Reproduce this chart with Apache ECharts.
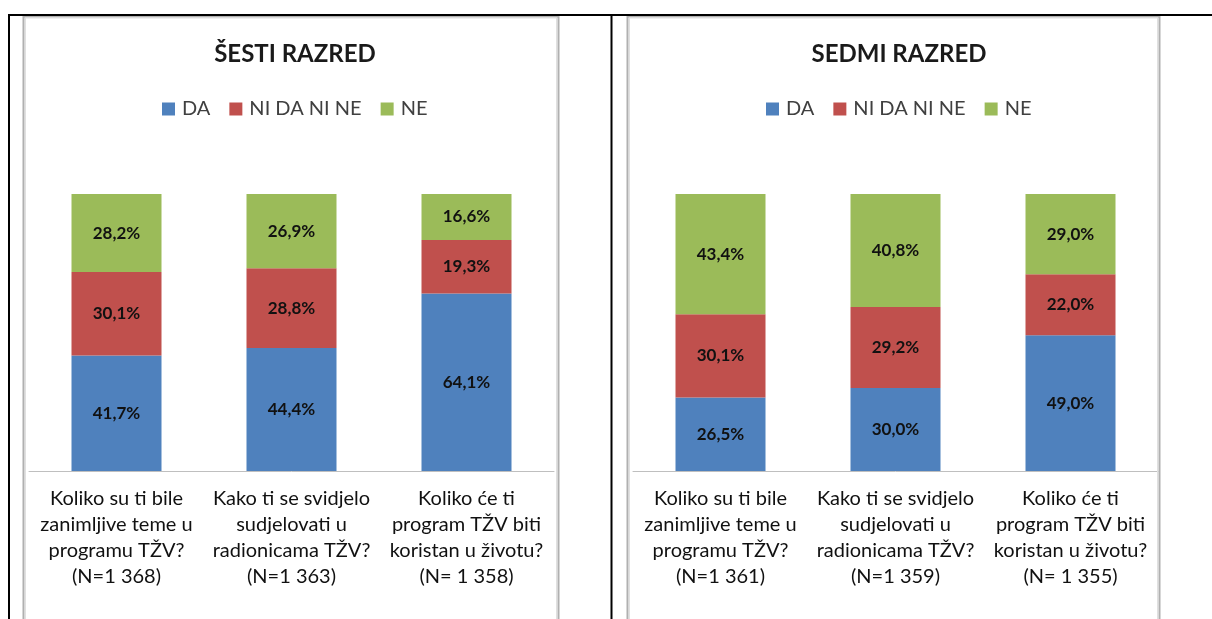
<!DOCTYPE html>
<html>
<head>
<meta charset="utf-8">
<script src="https://cdn.jsdelivr.net/npm/echarts@6/dist/echarts.min.js"></script>
<style>
html,body{margin:0;padding:0;background:#fff;}
#c{width:1212px;height:619px;}
</style>
</head>
<body>
<div id="c"></div>
<script>
// ---- data ----
const titles = ['ŠESTI RAZRED', 'SEDMI RAZRED'];
const seriesNames = ['DA', 'NI DA NI NE', 'NE'];
const categories6 = [
  'Koliko su ti bile\nzanimljive teme u\nprogramu TŽV?\n(N=1 368)',
  'Kako ti se svidjelo\nsudjelovati u\nradionicama TŽV?\n(N=1 363)',
  'Koliko će ti\nprogram TŽV biti\nkoristan u životu?\n(N= 1 358)'
];
const categories7 = [
  'Koliko su ti bile\nzanimljive teme u\nprogramu TŽV?\n(N=1 361)',
  'Kako ti se svidjelo\nsudjelovati u\nradionicama TŽV?\n(N=1 359)',
  'Koliko će ti\nprogram TŽV biti\nkoristan u životu?\n(N= 1 355)'
];
const da6   = [41.7, 44.4, 64.1];
const nidani6 = [30.1, 28.8, 19.3];
const ne6   = [28.2, 26.9, 16.6];
const da7   = [26.5, 30.0, 49.0];
const nidani7 = [30.1, 29.2, 22.0];
const ne7   = [43.4, 40.8, 29.0];

const colors = ['#4F81BD', '#C0504D', '#9BBB59'];
const FONT = 'Lato, "Open Sans", sans-serif';

const chart = echarts.init(document.getElementById('c'), null, {renderer: 'canvas'});

const panels = [
  {cats: categories6, vals: [da6, nidani6, ne6], left: 29, center: 291, legendLeft: 162},
  {cats: categories7, vals: [da7, nidani7, ne7], left: 633, center: 895, legendLeft: 766}
];

const option = {
  animation: false,
  backgroundColor: '#fff',
  color: colors,
  title: panels.map((p, i) => ({
    text: titles[i],
    left: p.center - 1, top: 37, textAlign: 'center',
    textStyle: {fontFamily: FONT, fontWeight: 'bold', fontSize: 24, color: '#1a1a1a'}
  })),
  legend: panels.map((p, i) => ({
    data: seriesNames,
    left: p.legendLeft, top: 99,
    padding: 0,
    itemWidth: 13, itemHeight: 13, itemGap: 19,
    icon: 'rect',
    textStyle: {fontFamily: FONT, fontSize: 20, color: '#404040', padding: [0, 0, 0, 2]}
  })),
  grid: panels.map(p => ({left: p.left, width: 525, top: 194, height: 277})),
  xAxis: panels.map((p, i) => ({
    type: 'category', gridIndex: i, data: p.cats,
    axisLine: {lineStyle: {color: '#bfbfbf', width: 1}},
    axisTick: {show: false},
    axisLabel: {fontFamily: FONT, fontSize: 20, color: '#111', lineHeight: 26, margin: 15, interval: 0}
  })),
  yAxis: panels.map((p, i) => ({
    type: 'value', gridIndex: i, min: 0, max: 100, show: false
  })),
  series: [],
  graphic: [
    // black table lines
    {type: 'line', shape: {x1: 8, y1: 15, x2: 1212, y2: 15}, style: {stroke: '#000', lineWidth: 2}, z: 100},
    {type: 'line', shape: {x1: 9, y1: 14, x2: 9, y2: 619}, style: {stroke: '#000', lineWidth: 2}, z: 100},
    {type: 'line', shape: {x1: 611.5, y1: 14, x2: 611.5, y2: 619}, style: {stroke: '#000', lineWidth: 2}, z: 100},
    // gray chart frames
    {type: 'rect', shape: {x: 23.5, y: 16.5, width: 535, height: 640}, style: {fill: 'none', stroke: '#b0b0b0', lineWidth: 2}, z: 90},
    {type: 'rect', shape: {x: 627.5, y: 16.5, width: 532, height: 640}, style: {fill: 'none', stroke: '#b0b0b0', lineWidth: 2}, z: 90},
    {type: 'rect', shape: {x: 25.5, y: 18, width: 531, height: 640}, style: {fill: 'none', stroke: '#e0e0e0', lineWidth: 1}, z: 90},
    {type: 'rect', shape: {x: 629.5, y: 18, width: 528, height: 640}, style: {fill: 'none', stroke: '#e0e0e0', lineWidth: 1}, z: 90}
  ]
};

panels.forEach((p, gi) => {
  seriesNames.forEach((name, si) => {
    option.series.push({
      type: 'bar', name: name, stack: 'g' + gi,
      xAxisIndex: gi, yAxisIndex: gi,
      barWidth: 90,
      data: p.vals[si],
      itemStyle: {color: colors[si]},
      label: {
        show: true, position: 'inside',
        formatter: (d) => d.value.toFixed(1).replace('.', ',') + '%',
        fontFamily: FONT, fontWeight: 'bold', fontSize: 17, color: '#111'
      }
    });
  });
});

chart.setOption(option);
</script>
</body>
</html>
